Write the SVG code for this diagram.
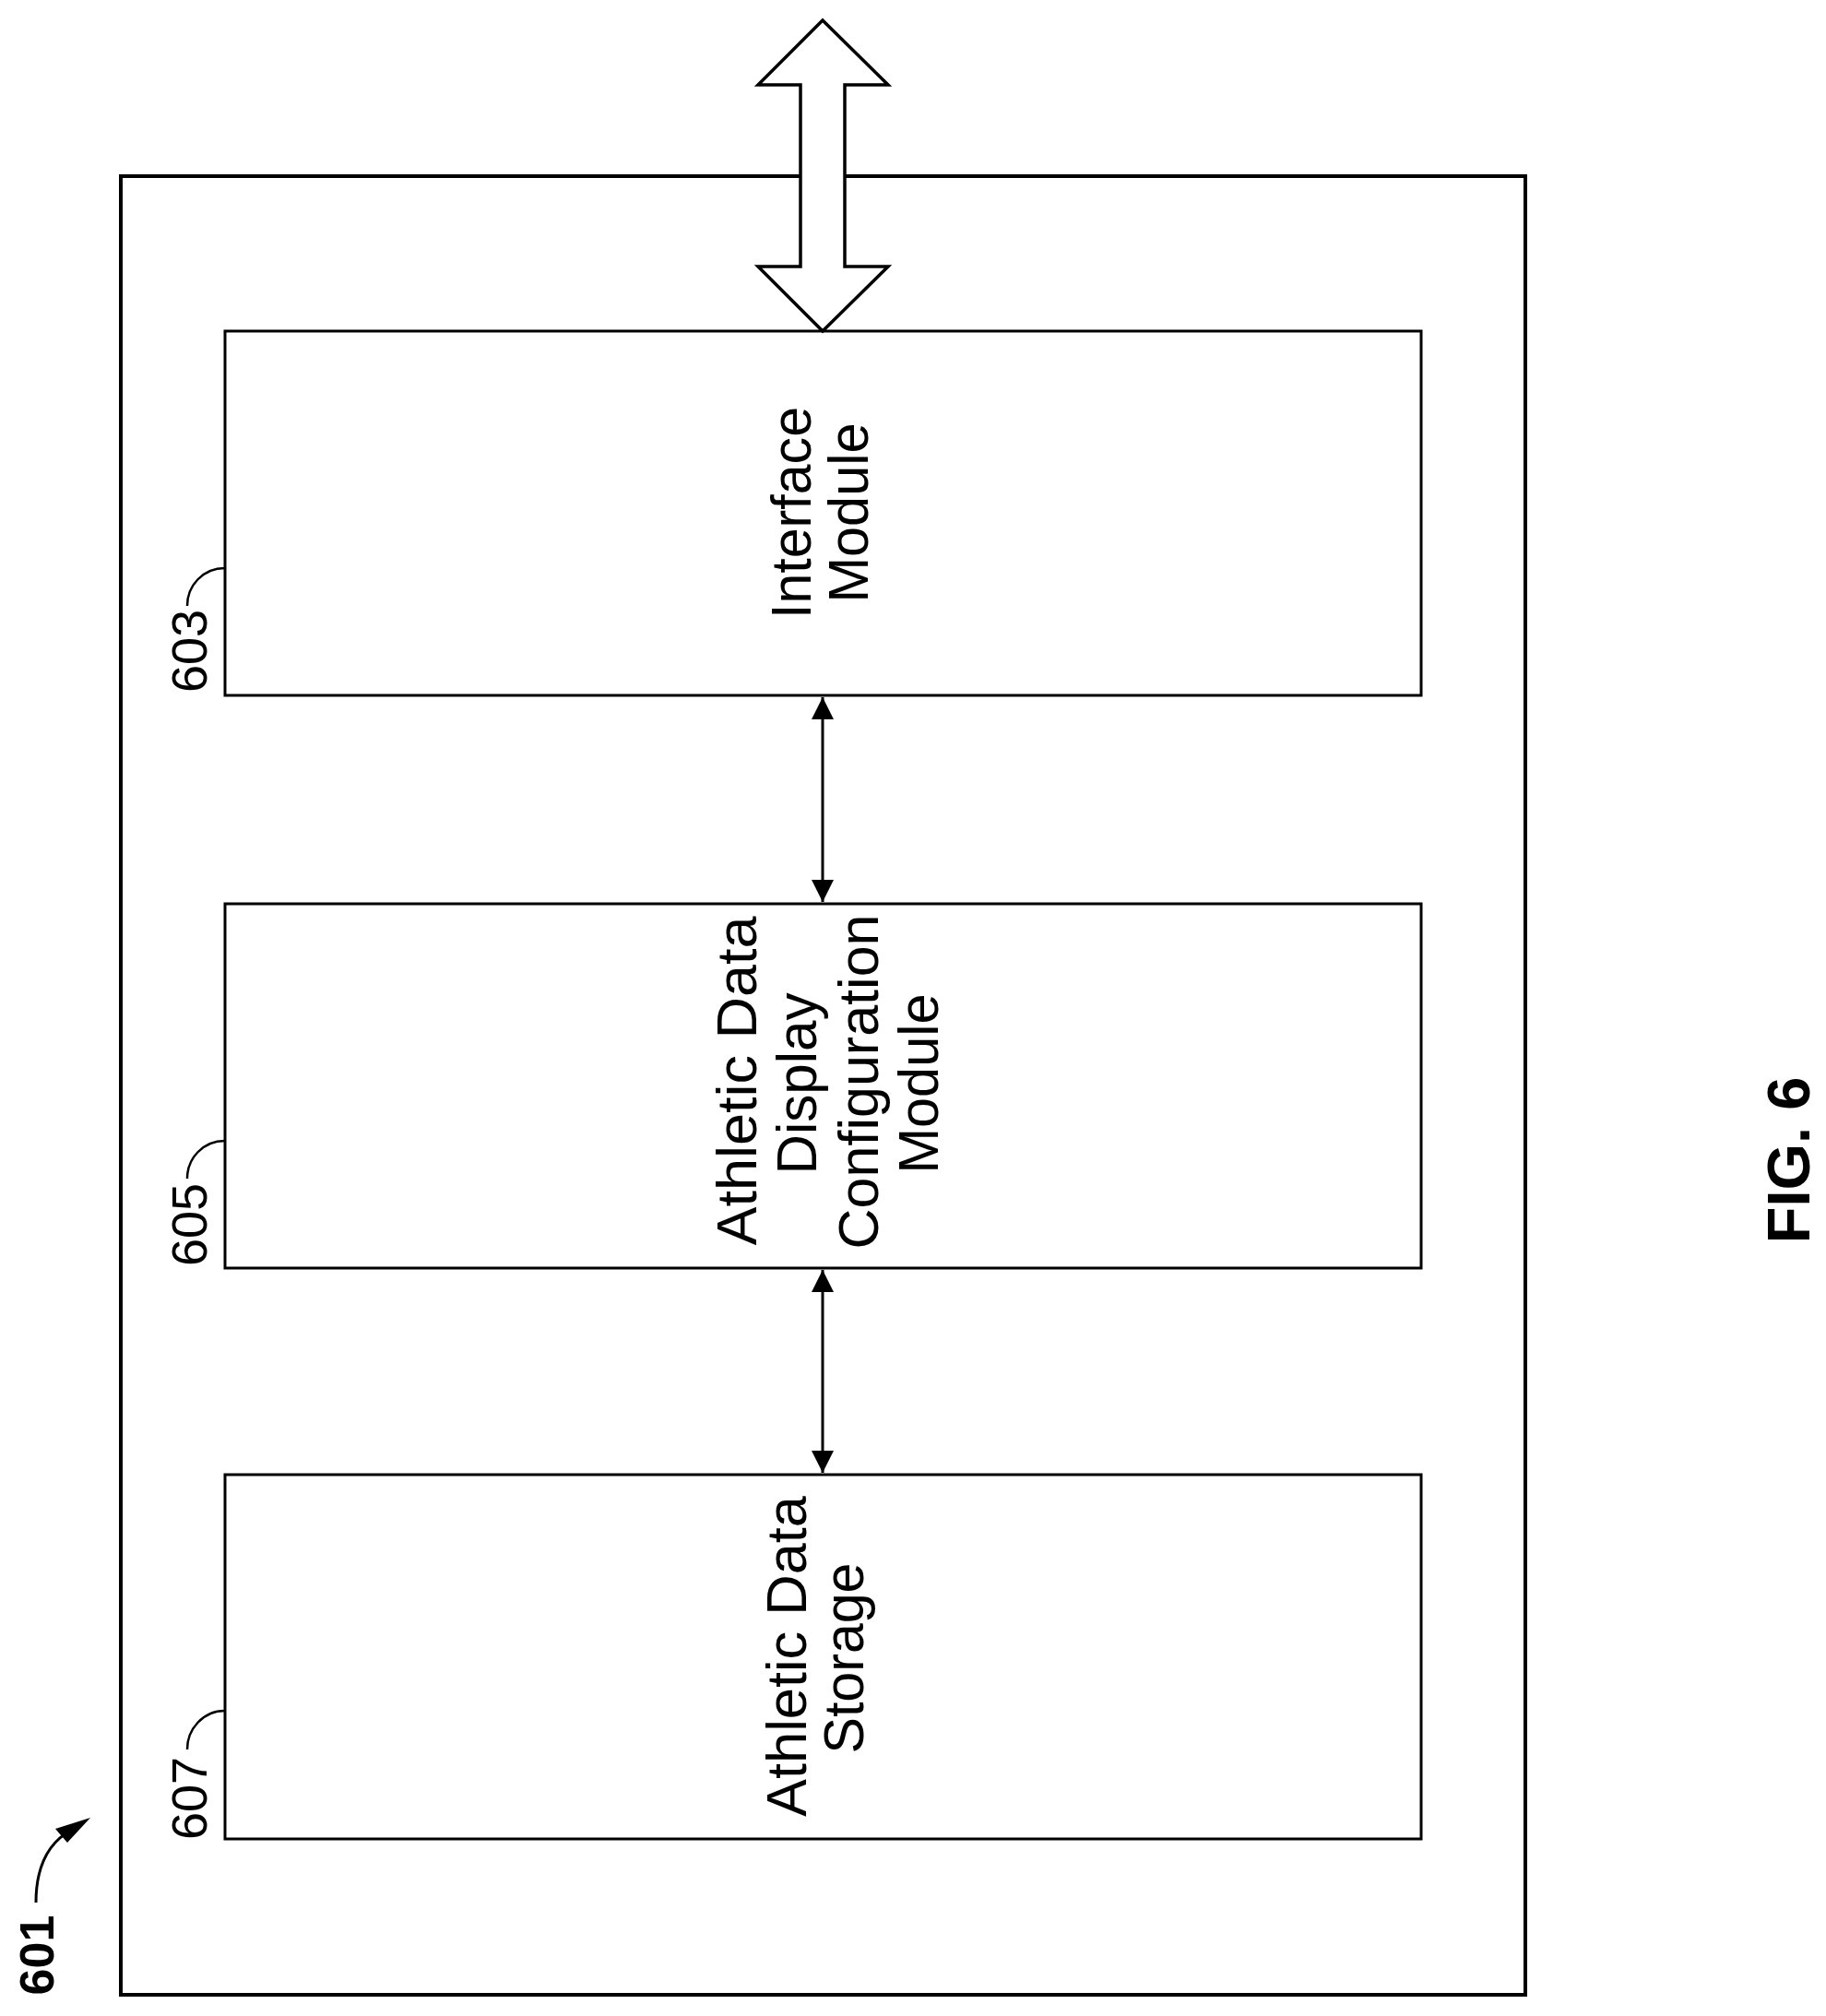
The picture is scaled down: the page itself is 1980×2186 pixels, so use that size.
<svg xmlns="http://www.w3.org/2000/svg" width="1980" height="2186" viewBox="0 0 1980 2186">
<style>
.box{fill:none;stroke:#000;stroke-width:3}
.t{font-family:"Liberation Sans",Arial,sans-serif;font-size:61px;text-anchor:middle;fill:#000}
.lbl{font-family:"Liberation Sans",Arial,sans-serif;font-size:54px;text-anchor:middle;fill:#000}
.b{font-family:"Liberation Sans",Arial,sans-serif;font-weight:bold;text-anchor:middle;fill:#000}
.ln{fill:none;stroke:#000;stroke-width:2.5}
</style>
<defs>
<marker id="ah" viewBox="0 0 10 10" refX="10" refY="5" markerWidth="28" markerHeight="24" markerUnits="userSpaceOnUse" orient="auto-start-reverse">
<path d="M0,0 L10,5 L0,10 z" fill="#000"/>
</marker>
</defs>
<g id="n601">
<rect x="131" y="191" width="1523" height="1972" fill="none" stroke="#000" stroke-width="4"/>
<text class="b" font-size="52" transform="translate(58,2120) rotate(-90)">601</text>
<path d="M39,2063 C39,2025 52,1998 78,1984" fill="none" stroke="#000" stroke-width="3"/>
<path d="M98,1971 L60,1983 L73,1998 z" fill="#000"/>
</g>
<g id="n603">
<rect class="box" x="244" y="359" width="1297" height="395"/>
<text class="t" transform="translate(879,556) rotate(-90)" textLength="230" lengthAdjust="spacingAndGlyphs">Interface</text>
<text class="t" transform="translate(941,556) rotate(-90)" textLength="195" lengthAdjust="spacingAndGlyphs">Module</text>
<text class="lbl" transform="translate(224,706) rotate(-90)">603</text>
<path class="ln" d="M203,657 C203,635 220,616 244,616"/>
</g>
<g id="n605">
<rect class="box" x="244" y="980" width="1297" height="395"/>
<text class="t" transform="translate(820,1172) rotate(-90)" textLength="357" lengthAdjust="spacingAndGlyphs">Athletic Data</text>
<text class="t" transform="translate(885,1175) rotate(-90)" textLength="197" lengthAdjust="spacingAndGlyphs">Display</text>
<text class="t" transform="translate(952,1173) rotate(-90)" textLength="363" lengthAdjust="spacingAndGlyphs">Configuration</text>
<text class="t" transform="translate(1017,1175) rotate(-90)" textLength="195" lengthAdjust="spacingAndGlyphs">Module</text>
<text class="lbl" transform="translate(224,1328) rotate(-90)">605</text>
<path class="ln" d="M203,1278 C203,1256 220,1237 244,1237"/>
</g>
<g id="n607">
<rect class="box" x="244" y="1599" width="1297" height="395"/>
<text class="t" transform="translate(874,1796) rotate(-90)" textLength="348" lengthAdjust="spacingAndGlyphs">Athletic Data</text>
<text class="t" transform="translate(936,1798) rotate(-90)" textLength="207" lengthAdjust="spacingAndGlyphs">Storage</text>
<text class="lbl" transform="translate(224,1950) rotate(-90)">607</text>
<path class="ln" d="M203,1897 C203,1875 220,1855 244,1855"/>
</g>
<g id="fig">
<text class="b" font-size="65" transform="translate(1962,1258) rotate(-90)">FIG. 6</text>
</g>
<g id="connectors">
<path d="M892,22 L963,92 L916,92 L916,289 L963,289 L892,359 L822,289 L868,289 L868,92 L822,92 z" fill="#fff" stroke="#000" stroke-width="3.5" stroke-linejoin="miter"/>
<line x1="892" y1="756" x2="892" y2="978" stroke="#000" stroke-width="3" marker-start="url(#ah)" marker-end="url(#ah)"/>
<line x1="892" y1="1377" x2="892" y2="1597" stroke="#000" stroke-width="3" marker-start="url(#ah)" marker-end="url(#ah)"/>
</g>
</svg>
